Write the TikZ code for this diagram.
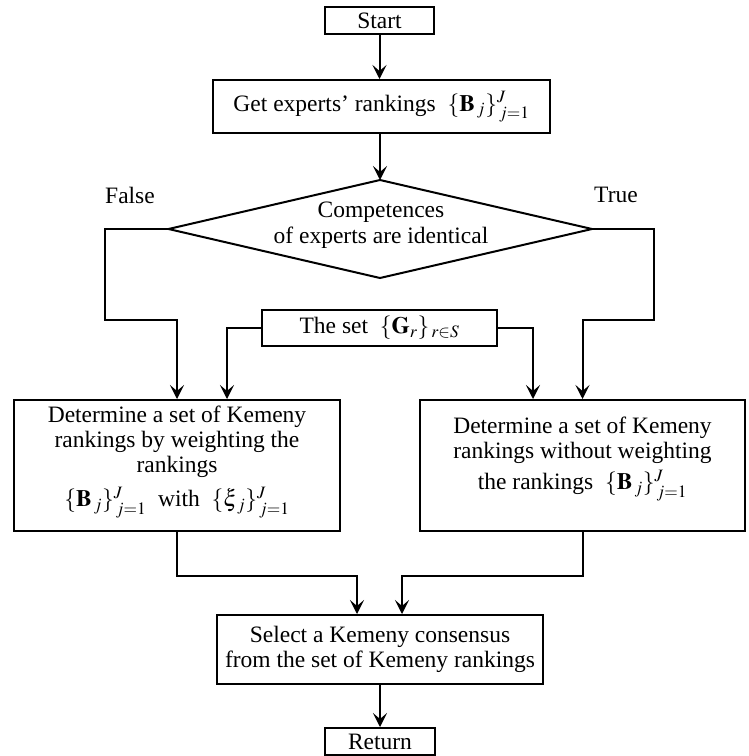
\documentclass[tikz,border=0pt]{standalone}
\usepackage{mathptmx}
\usepackage{fontspec}
\setmainfont{Liberation Serif}
\usetikzlibrary{arrows.meta,calc}
\newcommand{\Bset}{$\{\mathbf{B}_{\,j}\}^{J}_{\,j=1}$}
\newcommand{\Xiset}{$\{\xi_{\,j}\}^{J}_{\,j=1}$}
\tikzset{
  box/.style={draw, line width=2pt, inner sep=0pt},
  txt/.style={align=center, inner sep=0pt, font=\fontsize{23.5}{25}\selectfont},
  arr/.style={line width=2pt, -{Stealth[length=14pt,width=14pt,inset=6pt]}},
  ln/.style={line width=2pt},
}
\begin{document}
\begin{tikzpicture}[x=1pt,y=-1pt]
\useasboundingbox (0,0) rectangle (749,756);
% boxes
\node[box, minimum width=109pt, minimum height=27pt, txt] (start) at (379.5,20.5) {Start};
\node[box, minimum width=337pt, minimum height=53pt, txt] (get) at (381.5,106.5) {Get experts’ rankings \ \Bset};
% decision
\coordinate (dt) at (380,180);
\coordinate (db) at (380,278);
\coordinate (dl) at (168.5,229);
\coordinate (dr) at (592,229);
\draw[line width=2pt, line join=miter] (dt) -- (dr) -- (db) -- (dl) -- cycle;
\node[txt] (dec) at (381,225) {Competences\\[1pt]of experts are identical};
\node[txt] (false) at (130,195) {False};
\node[txt] (true) at (616,195) {True};
% set box
\node[box, minimum width=235pt, minimum height=36pt, txt] (set) at (379.5,328) {The set \ $\{\mathbf{G}_{r}\}_{\,r\in S}$};
% left / right boxes
\node[box, minimum width=326pt, minimum height=131pt] (L) at (177,465.5) {};
\node[txt] (Lt) at (177,462) {Determine a set of Kemeny\\rankings by weighting the\\rankings\\[9pt] \Bset\ \ with \ \Xiset};
\node[box, minimum width=325pt, minimum height=131pt] (R) at (582.5,465.5) {};
\node[txt] (Rt) at (582.5,459) {Determine a set of Kemeny\\rankings without weighting\\[6pt]the rankings \ \Bset};
% select and return
\node[box, minimum width=326pt, minimum height=69pt, txt] (sel) at (380,649.5) {Select a Kemeny consensus\\from the set of Kemeny rankings};
\node[box, minimum width=110pt, minimum height=27pt, txt] (ret) at (380,741.5) {Return};
% connectors
\draw[arr] (start.south) -- (get.north -| start.south);
\draw[arr] (get.south -| dt) -- (dt);
\draw[arr] (dl) -| (105,320) -| (L.north);
\draw[arr] (dr) -| (654,320) -| (R.north);
\draw[arr] (set.west) -| ([xshift=50pt]L.north);
\draw[arr] (set.east) -| ([xshift=-49.5pt]R.north);
\draw[arr] (L.south) |- ([xshift=-23pt,yshift=38pt]sel.north) -- ([xshift=-23pt]sel.north);
\draw[arr] (R.south) |- ([xshift=22pt,yshift=38pt]sel.north) -- ([xshift=22pt]sel.north);
\draw[arr] (sel.south) -- (ret.north);
\end{tikzpicture}
\end{document}
